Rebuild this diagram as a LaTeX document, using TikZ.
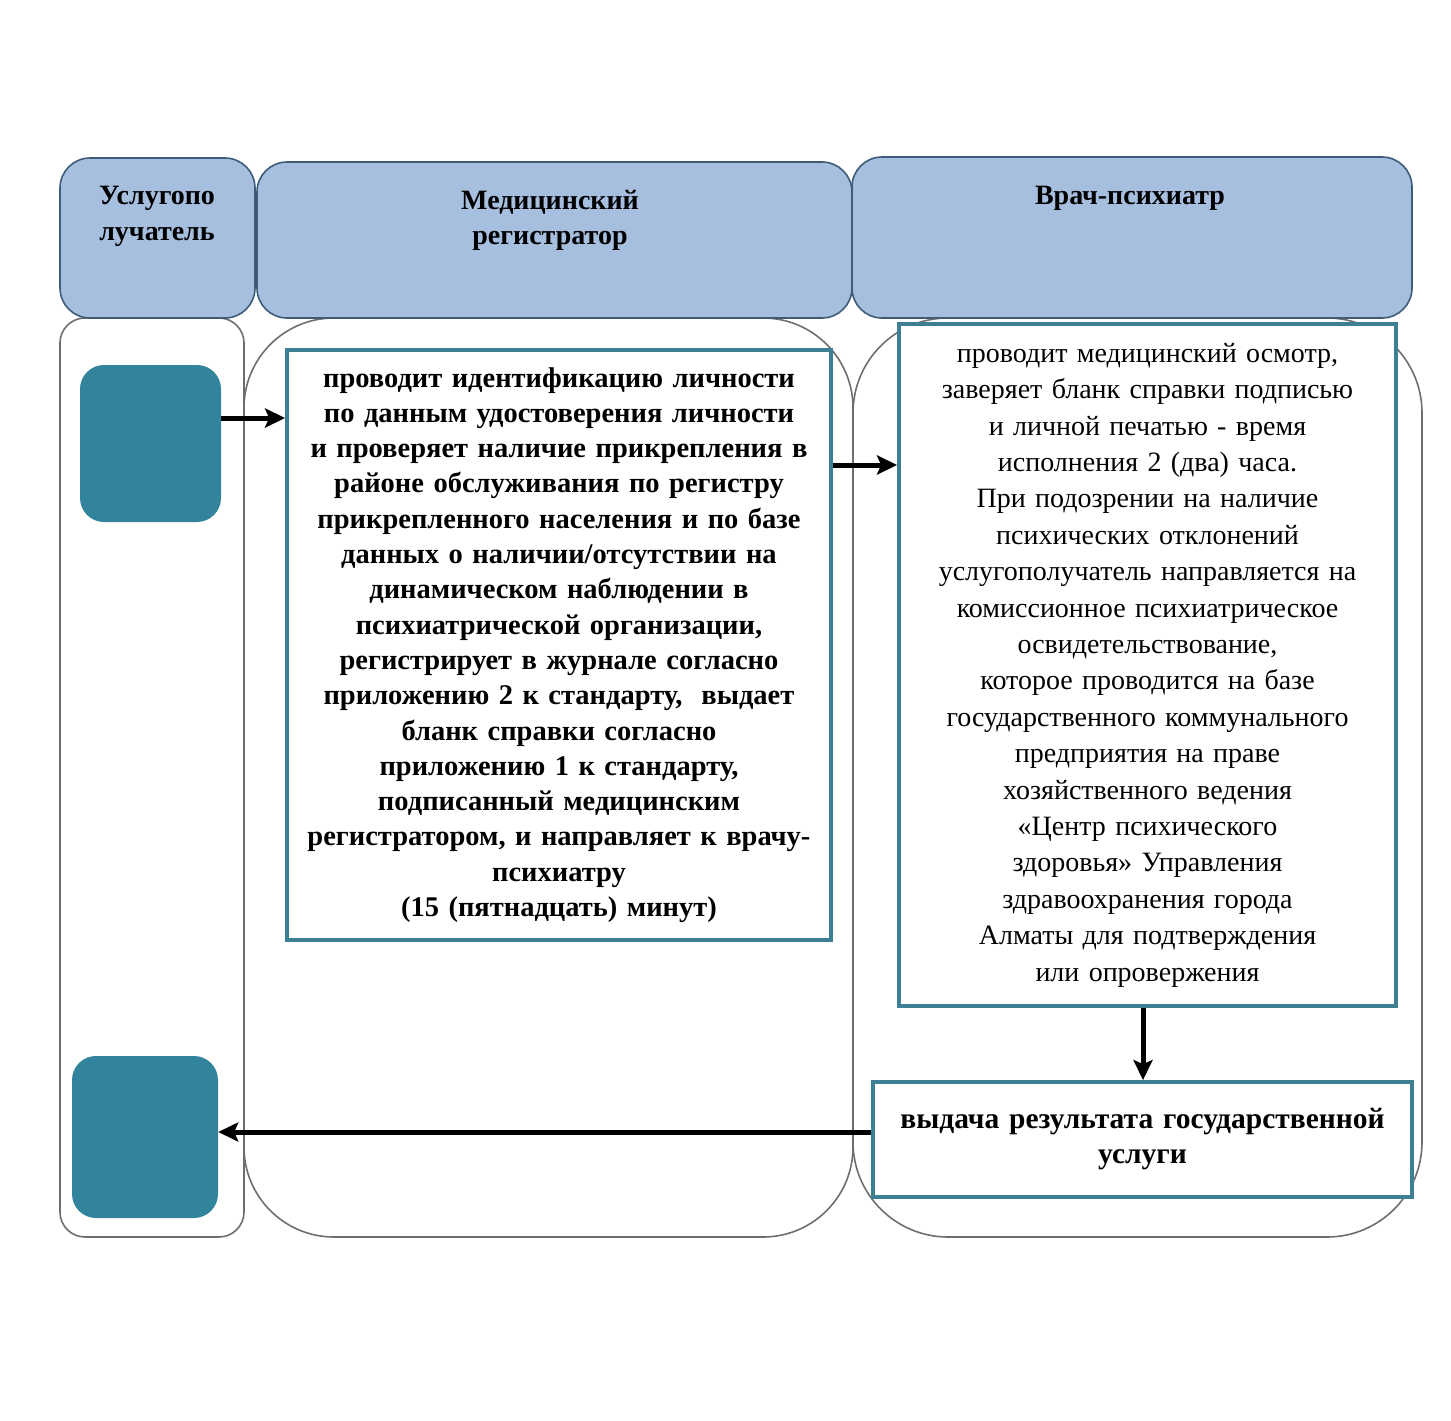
\documentclass[tikz,border=0pt]{standalone}
\usepackage{fontspec}
\setmainfont{Liberation Serif}
\usetikzlibrary{arrows.meta}
\definecolor{hdrfill}{HTML}{A7BFDE}
\definecolor{hdrdraw}{HTML}{3E5C7A}
\definecolor{tealfill}{HTML}{31849B}
\definecolor{boxdraw}{HTML}{3D7F93}
\definecolor{lanedraw}{HTML}{6E6E6E}
\tikzset{
  hdr/.style={draw=hdrdraw, fill=hdrfill, line width=1.6pt, rounded corners=30pt},
  hdrtext/.style={anchor=north, align=center, font=\fontsize{28}{35.5}\selectfont\bfseries, inner sep=0pt},
  lane/.style={draw=lanedraw, line width=1.6pt},
  actor/.style={fill=tealfill, rounded corners=24pt, draw=none},
  stepbox/.style={draw=boxdraw, line width=3.8pt, fill=white, align=center, inner sep=0pt},
  flow/.style={line width=5pt, -{Stealth[length=20pt,width=19pt,inset=4pt]}}
}
\begin{document}
\begin{tikzpicture}[x=1pt,y=-1pt]
\useasboundingbox (0,0) rectangle (1451,1421);
% lanes
\draw[lane, rounded corners=25pt] (60,318) rectangle (244,1237);
\draw[lane, rounded corners=90pt] (244,318) rectangle (853,1237);
\draw[lane, rounded corners=95pt] (853,318) rectangle (1422,1237);
% headers
\node[hdr, minimum width=195pt, minimum height=160pt] (h1) at (157.5,238) {};
\node[hdr, minimum width=595pt, minimum height=156pt] (h2) at (554.5,240) {};
\node[hdr, minimum width=560pt, minimum height=161pt] (h3) at (1132,237.5) {};
\node[hdrtext] (h1t) at (157,186) {Услугопо\\лучатель};
\node[hdrtext] (h2t) at (550,190) {Медицинский\\регистратор};
\node[hdrtext] (h3t) at (1130,186) {Врач-психиатр};
% actor boxes
\node[actor, minimum width=141pt, minimum height=157pt] (a1) at (150.5,443.5) {};
\node[actor, minimum width=146pt, minimum height=162pt] (a2) at (145,1137) {};
% step boxes
\node[stepbox, minimum width=544pt, minimum height=590pt, text width=540pt,
  font=\fontsize{28.5}{35.3}\selectfont\bfseries] (b1) at (559,645) {проводит идентификацию личности\\
по данным удостоверения личности\\
и проверяет наличие прикрепления в\\
районе обслуживания по регистру\\
прикрепленного населения и по базе\\
данных о наличии/отсутствии на\\
динамическом наблюдении в\\
психиатрической организации,\\
регистрирует в журнале согласно\\
приложению 2 к стандарту,\ \ выдает\\
бланк справки согласно\\
приложению 1 к стандарту,\\
подписанный медицинским\\
регистратором, и направляет к врачу-\\
психиатру\\
(15 (пятнадцать) минут)};
\node[stepbox, minimum width=497pt, minimum height=682pt, text width=495pt,
  font=\fontsize{28}{36.4}\selectfont] (b2) at (1147.5,665) {проводит медицинский осмотр,\\
заверяет бланк справки подписью\\
и личной печатью - время\\
исполнения 2 (два) часа.\\
При подозрении на наличие\\
психических отклонений\\
услугополучатель направляется на\\
комиссионное психиатрическое\\
освидетельствование,\\
которое проводится на базе\\
государственного коммунального\\
предприятия на праве\\
хозяйственного ведения\\
«Центр психического\\
здоровья» Управления\\
здравоохранения города\\
Алматы для подтверждения\\
или опровержения};
\node[stepbox, minimum width=539pt, minimum height=115pt, text width=535pt,
  font=\fontsize{29.5}{35}\selectfont\bfseries] (b3) at (1142.5,1139.5) {выдача результата государственной\\ услуги\\[24pt]};
% flows
\draw[flow] (a1.east |- 0,418) -- (b1.west |- 0,418);
\draw[flow] (b1.east |- 0,465) -- (b2.west |- 0,465);
\draw[flow] (b2.south -| 1143,0) -- (b3.north -| 1143,0);
\draw[flow] (b3.west |- 0,1132) -- (a2.east |- 0,1132);
\end{tikzpicture}
\end{document}
